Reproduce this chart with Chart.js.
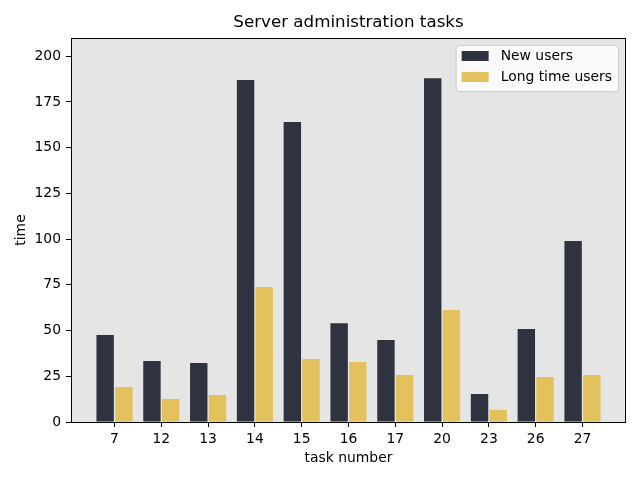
<!DOCTYPE html>
<html>
<head>
<meta charset="utf-8">
<script src="https://cdn.jsdelivr.net/npm/chart.js@4"></script>
<style>
  body { margin: 0; background: #fff; }
</style>
</head>
<body>
<canvas id="chart" width="640" height="480"></canvas>
<script>
var taskNumbers = ["7", "12", "13", "14", "15", "16", "17", "20", "23", "26", "27"];
var newUsers = [47.6, 33.4, 32.3, 187, 164, 54, 44.8, 188, 15.3, 50.9, 99];
var longTimeUsers = [19.1, 12.6, 14.8, 73.8, 34.5, 32.8, 25.7, 61.3, 6.6, 24.6, 25.7];
var yTicks = [0, 25, 50, 75, 100, 125, 150, 175, 200];
var chartTitle = "Server administration tasks";

var font = "DejaVu Sans";

function toPoints(values) {
    return values.map((v, i) => ({x: i, y: v}));
}

// grey plot background, black frame, and the title centred over the plot
var frame = {
    id: "frame",
    beforeDraw(chart) {
        var a = chart.chartArea, ctx = chart.ctx;
        ctx.save();
        ctx.fillStyle = "#e5e5e5";
        ctx.fillRect(a.left, a.top, a.right - a.left, a.bottom - a.top);
        ctx.restore();
    },
    afterDraw(chart) {
        var a = chart.chartArea, ctx = chart.ctx;
        ctx.save();
        ctx.strokeStyle = "#000";
        ctx.lineWidth = 1;
        ctx.strokeRect(a.left + 0.5, a.top + 0.5, a.right - a.left - 1, a.bottom - a.top);
        ctx.font = "16.7px '" + font + "'";
        ctx.fillStyle = "#000";
        ctx.textAlign = "center";
        ctx.textBaseline = "middle";
        ctx.fillText(chartTitle, (a.left + a.right) / 2, a.top - 15);
        ctx.restore();
    }
};

// legend drawn inside the plot, upper right like matplotlib
var innerLegend = {
    id: "innerLegend",
    afterDraw(chart) {
        var a = chart.chartArea, ctx = chart.ctx;
        var sets = chart.data.datasets;
        ctx.save();
        ctx.font = "13.9px '" + font + "'";
        var w = 0;
        sets.forEach(ds => { w = Math.max(w, ctx.measureText(ds.label).width); });
        var boxW = w + 51, boxH = 46;
        var x = a.right - 8 - boxW, y = a.top + 7;
        ctx.beginPath();
        ctx.roundRect(x + 0.5, y + 0.5, boxW, boxH, 3);
        ctx.fillStyle = "rgba(255,255,255,0.8)";
        ctx.fill();
        ctx.strokeStyle = "#cccccc";
        ctx.lineWidth = 1;
        ctx.stroke();
        ctx.textBaseline = "middle";
        sets.forEach((ds, i) => {
            var cy = y + 11 + i * 21;
            ctx.fillStyle = ds.backgroundColor;
            ctx.fillRect(x + 6, cy - 5, 27, 10);
            ctx.fillStyle = "#000";
            ctx.fillText(ds.label, x + 45, cy);
        });
        ctx.restore();
    }
};

new Chart("chart", {
    type: "bar",
    data: {
        datasets: [
            {label: "New users", data: toPoints(newUsers), backgroundColor: "#2f3340"},
            {label: "Long time users", data: toPoints(longTimeUsers), backgroundColor: "#e3c25d"}
        ]
    },
    plugins: [frame, innerLegend],
    options: {
        responsive: false,
        animation: false,
        categoryPercentage: 0.8,
        barPercentage: 0.93,
        layout: {padding: {left: 13, right: 14, top: 38, bottom: 13}},
        plugins: {
            legend: {display: false},
            tooltip: {enabled: false},
            title: {display: false}
        },
        scales: {
            x: {
                type: "linear",
                min: -0.93,
                max: 10.93,
                offset: false,
                afterBuildTicks(scale) {
                    scale.ticks = taskNumbers.map((t, i) => ({value: i}));
                },
                afterFit(scale) { scale.height = 45; },
                ticks: {
                    color: "#000",
                    font: {family: font, size: 13.9},
                    padding: 4,
                    autoSkip: false,
                    maxRotation: 0,
                    callback: (v) => taskNumbers[v]
                },
                grid: {offset: false, drawOnChartArea: false, drawTicks: true, tickLength: 5, color: "#000"},
                border: {display: false},
                title: {
                    display: true,
                    text: "task number",
                    color: "#000",
                    font: {family: font, size: 13.9},
                    padding: {top: 4, bottom: 0}
                }
            },
            y: {
                min: 0,
                max: 210,
                afterBuildTicks(scale) {
                    scale.ticks = yTicks.map(v => ({value: v}));
                },
                afterFit(scale) { scale.width = 58; },
                ticks: {
                    color: "#000",
                    font: {family: font, size: 13.9},
                    padding: 5
                },
                grid: {drawOnChartArea: false, drawTicks: true, tickLength: 5, color: "#000"},
                border: {display: false},
                title: {
                    display: true,
                    text: "time",
                    color: "#000",
                    font: {family: font, size: 13.9},
                    padding: {top: 0, bottom: 0}
                }
            }
        }
    }
});
</script>
</body>
</html>
